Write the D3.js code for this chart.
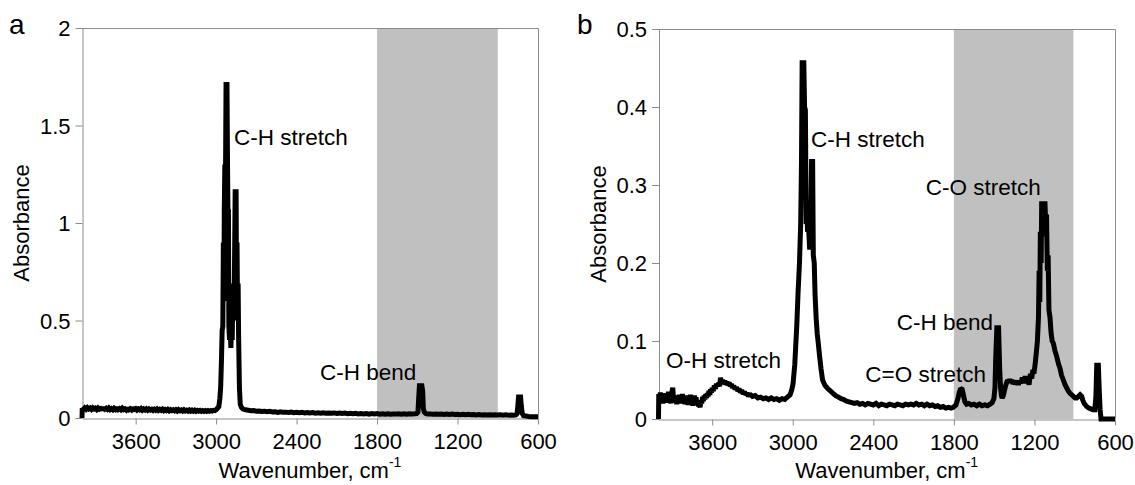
<!DOCTYPE html>
<html>
<head>
    <meta charset="utf-8" />
    <title>FTIR spectra</title>
    <script src="https://d3js.org/d3.v7.min.js" charset="utf-8"></script>
    <style>
        body { margin: 0; background: #fff; }
        text { font-family: "Liberation Sans", Arial, sans-serif; }
    </style>
</head>
<body>
    <script>
        // Spectrum a: [wavenumber cm-1, absorbance]
        const spectrumA = [
            [4000, 0.0], [3998, 0.05], [3990, 0.044], [3980, 0.052], [3970, 0.045], [3960, 0.053],
            [3950, 0.046], [3940, 0.051], [3930, 0.044], [3920, 0.052], [3910, 0.046], [3900, 0.05],
            [3890, 0.043], [3880, 0.051], [3870, 0.045], [3860, 0.049], [3850, 0.043], [3840, 0.053],
            [3830, 0.045], [3820, 0.05], [3810, 0.044], [3800, 0.051], [3790, 0.043], [3780, 0.048],
            [3770, 0.042], [3760, 0.05], [3750, 0.044], [3740, 0.052], [3730, 0.043], [3720, 0.048],
            [3710, 0.042], [3700, 0.05], [3690, 0.043], [3680, 0.047], [3670, 0.041], [3660, 0.05],
            [3650, 0.043], [3640, 0.048], [3630, 0.042], [3620, 0.051], [3610, 0.044], [3600, 0.048],
            [3590, 0.041], [3580, 0.047], [3570, 0.042], [3560, 0.048], [3550, 0.04], [3540, 0.046],
            [3530, 0.041], [3520, 0.047], [3510, 0.04], [3500, 0.046], [3490, 0.041], [3480, 0.045],
            [3470, 0.039], [3460, 0.045], [3450, 0.04], [3440, 0.046], [3430, 0.039], [3420, 0.044],
            [3410, 0.039], [3400, 0.045], [3390, 0.038], [3380, 0.043], [3370, 0.038], [3360, 0.044],
            [3350, 0.037], [3340, 0.043], [3330, 0.038], [3320, 0.042], [3310, 0.037], [3300, 0.042],
            [3290, 0.036], [3280, 0.043], [3270, 0.037], [3260, 0.041], [3250, 0.036], [3240, 0.042],
            [3230, 0.036], [3220, 0.04], [3210, 0.035], [3200, 0.041], [3190, 0.035], [3180, 0.04],
            [3170, 0.035], [3160, 0.04], [3150, 0.034], [3140, 0.039], [3130, 0.035], [3120, 0.039],
            [3110, 0.034], [3100, 0.038], [3090, 0.034], [3080, 0.038], [3070, 0.034], [3060, 0.038],
            [3050, 0.035], [3040, 0.038], [3030, 0.036], [3020, 0.039], [3010, 0.038], [3000, 0.042],
            [2990, 0.05], [2980, 0.058], [2972, 0.1], [2966, 0.16], [2960, 0.3], [2955, 0.45],
            [2950, 0.47], [2946, 0.9], [2942, 0.6], [2939, 1.07], [2935, 1.3], [2931, 1.1],
            [2926, 1.71], [2919, 1.71], [2915, 1.3], [2911, 1.0], [2908, 1.07], [2905, 0.47],
            [2900, 0.4], [2895, 0.47], [2890, 0.36], [2885, 0.47], [2880, 0.4], [2874, 0.69],
            [2868, 0.5], [2864, 0.69], [2858, 1.16], [2851, 1.16], [2848, 0.69], [2844, 0.9],
            [2840, 0.5], [2836, 0.69], [2832, 0.4], [2826, 0.15], [2820, 0.07], [2812, 0.055],
            [2800, 0.046], [2780, 0.042], [2760, 0.04], [2740, 0.037], [2720, 0.038], [2700, 0.035],
            [2680, 0.036], [2660, 0.033], [2640, 0.035], [2620, 0.032], [2600, 0.034], [2580, 0.031],
            [2560, 0.032], [2540, 0.029], [2520, 0.032], [2500, 0.029], [2480, 0.03], [2460, 0.028],
            [2440, 0.03], [2420, 0.027], [2400, 0.029], [2380, 0.027], [2360, 0.029], [2340, 0.026],
            [2320, 0.028], [2300, 0.026], [2280, 0.028], [2260, 0.025], [2240, 0.027], [2220, 0.025],
            [2200, 0.027], [2180, 0.024], [2160, 0.026], [2140, 0.024], [2120, 0.026], [2100, 0.023],
            [2080, 0.025], [2060, 0.023], [2040, 0.025], [2020, 0.022], [2000, 0.024], [1980, 0.022],
            [1960, 0.024], [1940, 0.021], [1920, 0.023], [1900, 0.021], [1880, 0.023], [1860, 0.02],
            [1840, 0.023], [1820, 0.021], [1800, 0.023], [1780, 0.02], [1760, 0.022], [1740, 0.02],
            [1720, 0.022], [1700, 0.019], [1680, 0.021], [1660, 0.02], [1640, 0.022], [1620, 0.02],
            [1600, 0.022], [1580, 0.02], [1560, 0.022], [1540, 0.021], [1520, 0.022], [1505, 0.023],
            [1495, 0.03], [1488, 0.12], [1484, 0.165], [1466, 0.165], [1460, 0.14], [1455, 0.05],
            [1448, 0.03], [1435, 0.022], [1420, 0.02], [1400, 0.021], [1380, 0.019], [1360, 0.021],
            [1340, 0.019], [1320, 0.02], [1300, 0.018], [1280, 0.02], [1260, 0.018], [1240, 0.02],
            [1220, 0.018], [1200, 0.019], [1180, 0.017], [1160, 0.019], [1140, 0.017], [1120, 0.019],
            [1100, 0.017], [1080, 0.018], [1060, 0.016], [1040, 0.018], [1020, 0.016], [1000, 0.017],
            [980, 0.015], [960, 0.017], [940, 0.015], [920, 0.017], [900, 0.015], [880, 0.016],
            [860, 0.014], [840, 0.016], [820, 0.014], [800, 0.015], [780, 0.014], [765, 0.016],
            [756, 0.022], [750, 0.065], [745, 0.108], [730, 0.108], [725, 0.065], [718, 0.025],
            [708, 0.012], [690, 0.01], [670, 0.008], [650, 0.007], [630, 0.007], [610, 0.006], [600, 0.006]
        ];

        // Spectrum b: [wavenumber cm-1, absorbance]
        const spectrumB = [
            [4000, 0.0], [3998, 0.032], [3992, 0.022], [3986, 0.034], [3980, 0.026], [3974, 0.031],
            [3968, 0.02], [3962, 0.029], [3956, 0.024], [3950, 0.033], [3944, 0.021], [3938, 0.03],
            [3932, 0.025], [3926, 0.035], [3920, 0.022], [3914, 0.028], [3908, 0.02], [3902, 0.033],
            [3894, 0.04], [3888, 0.026], [3882, 0.03], [3876, 0.021], [3870, 0.029], [3864, 0.019],
            [3858, 0.027], [3852, 0.022], [3846, 0.031], [3840, 0.02], [3834, 0.028], [3828, 0.023],
            [3822, 0.032], [3816, 0.021], [3810, 0.029], [3804, 0.019], [3798, 0.03], [3792, 0.024],
            [3786, 0.027], [3780, 0.018], [3774, 0.026], [3768, 0.022], [3762, 0.031], [3756, 0.02],
            [3750, 0.027], [3744, 0.017], [3738, 0.025], [3732, 0.03], [3726, 0.021], [3720, 0.028],
            [3714, 0.018], [3708, 0.024], [3702, 0.016], [3696, 0.019], [3690, 0.015], [3684, 0.024],
            [3678, 0.02], [3672, 0.028], [3666, 0.023], [3660, 0.03], [3654, 0.025], [3648, 0.032],
            [3642, 0.027], [3636, 0.033], [3630, 0.029], [3624, 0.036], [3618, 0.031], [3612, 0.038],
            [3606, 0.034], [3600, 0.04], [3592, 0.036], [3584, 0.043], [3576, 0.039], [3568, 0.045],
            [3560, 0.042], [3552, 0.046], [3545, 0.042], [3538, 0.053], [3530, 0.045], [3522, 0.05],
            [3514, 0.045], [3506, 0.049], [3498, 0.044], [3490, 0.048], [3482, 0.043], [3474, 0.047],
            [3466, 0.042], [3458, 0.045], [3450, 0.04], [3440, 0.043], [3430, 0.038], [3420, 0.041],
            [3410, 0.036], [3400, 0.039], [3390, 0.034], [3380, 0.037], [3370, 0.032], [3360, 0.035],
            [3350, 0.031], [3340, 0.033], [3330, 0.029], [3320, 0.032], [3300, 0.029], [3280, 0.03],
            [3260, 0.027], [3240, 0.028], [3220, 0.026], [3200, 0.027], [3180, 0.025], [3160, 0.027],
            [3140, 0.025], [3120, 0.026], [3100, 0.024], [3080, 0.026], [3060, 0.025], [3040, 0.028],
            [3020, 0.031], [3008, 0.037], [2998, 0.045], [2985, 0.07], [2970, 0.12], [2961, 0.16],
            [2950, 0.2], [2941, 0.25], [2935, 0.33], [2930, 0.46], [2924, 0.4], [2918, 0.46],
            [2912, 0.4], [2906, 0.396], [2900, 0.25], [2895, 0.27], [2890, 0.24], [2882, 0.245],
            [2874, 0.217], [2866, 0.25], [2860, 0.33], [2852, 0.33], [2847, 0.21], [2840, 0.2],
            [2834, 0.16], [2826, 0.13], [2818, 0.11], [2810, 0.097], [2800, 0.08], [2790, 0.065],
            [2778, 0.05], [2760, 0.043], [2740, 0.039], [2720, 0.036], [2700, 0.033], [2680, 0.03],
            [2660, 0.028], [2640, 0.026], [2620, 0.025], [2600, 0.023], [2580, 0.022], [2560, 0.021],
            [2540, 0.02], [2520, 0.021], [2500, 0.019], [2480, 0.02], [2460, 0.018], [2440, 0.02],
            [2420, 0.019], [2400, 0.018], [2380, 0.02], [2360, 0.017], [2340, 0.019], [2320, 0.018],
            [2300, 0.017], [2280, 0.019], [2260, 0.018], [2240, 0.017], [2220, 0.019], [2200, 0.018],
            [2180, 0.017], [2160, 0.019], [2140, 0.018], [2120, 0.019], [2100, 0.018], [2080, 0.02],
            [2060, 0.018], [2040, 0.019], [2020, 0.017], [2000, 0.019], [1980, 0.017], [1960, 0.018],
            [1940, 0.016], [1920, 0.017], [1900, 0.015], [1880, 0.016], [1860, 0.014], [1840, 0.015],
            [1820, 0.014], [1805, 0.015], [1785, 0.018], [1770, 0.026], [1760, 0.034], [1750, 0.039],
            [1738, 0.038], [1728, 0.03], [1718, 0.022], [1705, 0.019], [1690, 0.02], [1670, 0.018],
            [1650, 0.019], [1630, 0.017], [1610, 0.019], [1590, 0.017], [1570, 0.018], [1550, 0.017],
            [1530, 0.019], [1515, 0.021], [1502, 0.026], [1494, 0.04], [1488, 0.08], [1480, 0.117],
            [1467, 0.117], [1463, 0.09], [1458, 0.06], [1452, 0.04], [1446, 0.03], [1440, 0.027],
            [1432, 0.03], [1424, 0.036], [1416, 0.042], [1408, 0.046], [1400, 0.05], [1392, 0.047],
            [1384, 0.051], [1376, 0.047], [1368, 0.05], [1360, 0.045], [1350, 0.048], [1340, 0.045],
            [1330, 0.049], [1320, 0.044], [1310, 0.049], [1300, 0.046], [1290, 0.053], [1280, 0.046],
            [1270, 0.055], [1260, 0.046], [1250, 0.05], [1240, 0.044], [1230, 0.058], [1220, 0.052],
            [1212, 0.063], [1204, 0.058], [1195, 0.07], [1186, 0.085], [1178, 0.1], [1170, 0.13],
            [1165, 0.19], [1160, 0.15], [1156, 0.24], [1150, 0.2], [1146, 0.279], [1140, 0.268],
            [1134, 0.279], [1128, 0.234], [1122, 0.279], [1116, 0.25], [1110, 0.262], [1104, 0.19],
            [1098, 0.21], [1092, 0.14], [1084, 0.13], [1076, 0.11], [1068, 0.1], [1059, 0.097],
            [1048, 0.088], [1034, 0.08], [1020, 0.07], [1010, 0.065], [998, 0.056], [985, 0.05],
            [972, 0.044], [960, 0.04], [948, 0.036], [935, 0.033], [922, 0.031], [910, 0.029],
            [897, 0.027], [885, 0.027], [872, 0.029], [860, 0.031], [848, 0.029], [840, 0.024],
            [830, 0.02], [820, 0.018], [811, 0.016], [795, 0.014], [780, 0.013], [765, 0.012],
            [750, 0.012], [742, 0.03], [736, 0.069], [724, 0.069], [718, 0.04], [711, 0.012],
            [704, 0.0], [650, 0.0], [600, 0.0]
        ];

        const xTicks = [3600, 3000, 2400, 1800, 1200, 600];
        const yTicksA = [0, 0.5, 1, 1.5, 2];
        const yTicksB = [0, 0.1, 0.2, 0.3, 0.4, 0.5];

        // shaded wavenumber windows
        const bandA = [1800, 900];
        const bandB = [1800, 910];

        // peak labels: [text, wavenumber, absorbance] (text start / baseline)
        const labelsA = [
            ["C-H stretch", 2867, 1.40],
            ["C-H bend", 2225, 0.195]
        ];
        const labelsB = [
            ["C-H stretch", 2864, 0.349],
            ["O-H stretch", 3944, 0.065],
            ["C=O stretch", 2460, 0.047],
            ["C-H bend", 2226, 0.114],
            ["C-O stretch", 2010, 0.287]
        ];

        const width = 1135, height = 485;
        const svg = d3.select("body").append("svg")
            .attr("width", width)
            .attr("height", height);

        function drawPanel(cfg) {
            const x = d3.scaleLinear().domain([4000, 600]).range([cfg.left, cfg.right]);
            const y = d3.scaleLinear().domain([0, cfg.yMax]).range([cfg.bottom, cfg.top]);

            // grey band
            svg.append("rect")
                .attr("x", x(cfg.band[0]))
                .attr("width", x(cfg.band[1]) - x(cfg.band[0]))
                .attr("y", cfg.top)
                .attr("height", cfg.bottom - cfg.top)
                .attr("fill", "#c0c0c0");

            // top and right frame
            svg.append("path")
                .attr("d", `M${cfg.left},${cfg.top + 0.5}H${cfg.right + 0.5}V${cfg.bottom}`)
                .attr("fill", "none")
                .attr("stroke", "#8c8c8c");

            const gx = svg.append("g")
                .attr("transform", `translate(0,${cfg.bottom + 0.5})`)
                .call(d3.axisBottom(x).tickValues(xTicks).tickFormat(d3.format("d"))
                    .tickSize(6).tickPadding(9).tickSizeOuter(0));
            const gy = svg.append("g")
                .attr("transform", `translate(${cfg.left + 0.5},0)`)
                .call(d3.axisLeft(y).tickValues(cfg.yTicks).tickFormat(d => String(d))
                    .tickSize(7).tickPadding(5).tickSizeOuter(0));

            [gx, gy].forEach(g => {
                g.attr("font-family", null).attr("font-size", 22);
                g.select(".domain").attr("stroke", "#8c8c8c");
                g.selectAll(".tick line").attr("stroke", "#8c8c8c");
                g.selectAll(".tick text").attr("fill", "#000");
            });
            gy.selectAll(".tick text").attr("dy", "0.36em");

            // spectrum
            const line = d3.line().x(d => x(d[0])).y(d => y(d[1]));
            svg.append("path")
                .datum(cfg.data)
                .attr("d", line)
                .attr("fill", "none")
                .attr("stroke", "#000")
                .attr("stroke-width", 5)
                .attr("stroke-linejoin", "miter")
                .attr("stroke-miterlimit", 1.5);

            // peak labels
            svg.selectAll(null)
                .data(cfg.labels)
                .enter().append("text")
                .attr("x", d => x(d[1]))
                .attr("y", d => y(d[2]))
                .attr("font-size", 22.5)
                .attr("fill", "#000")
                .text(d => d[0]);

            // x axis title
            const xt = svg.append("text")
                .attr("x", (cfg.left + cfg.right) / 2)
                .attr("y", 478)
                .attr("text-anchor", "middle")
                .attr("font-size", 22)
                .attr("fill", "#000");
            xt.append("tspan").text("Wavenumber, cm");
            xt.append("tspan").attr("font-size", 14).attr("dy", -11).text("-1");

            // y axis title
            svg.append("text")
                .attr("transform", `translate(${cfg.left - 53},${(cfg.top + cfg.bottom) / 2}) rotate(-90)`)
                .attr("text-anchor", "middle")
                .attr("font-size", 22)
                .attr("fill", "#000")
                .text("Absorbance");

            // panel letter
            svg.append("text")
                .attr("x", cfg.letterX)
                .attr("y", 34)
                .attr("font-size", 28)
                .attr("fill", "#000")
                .text(cfg.letter);
        }

        drawPanel({
            data: spectrumA, labels: labelsA, band: bandA, yTicks: yTicksA, yMax: 2,
            left: 82, right: 538, top: 28, bottom: 418, letter: "a", letterX: 9
        });
        drawPanel({
            data: spectrumB, labels: labelsB, band: bandB, yTicks: yTicksB, yMax: 0.5,
            left: 658.5, right: 1115, top: 29, bottom: 419, letter: "b", letterX: 577
        });
    </script>
</body>
</html>
